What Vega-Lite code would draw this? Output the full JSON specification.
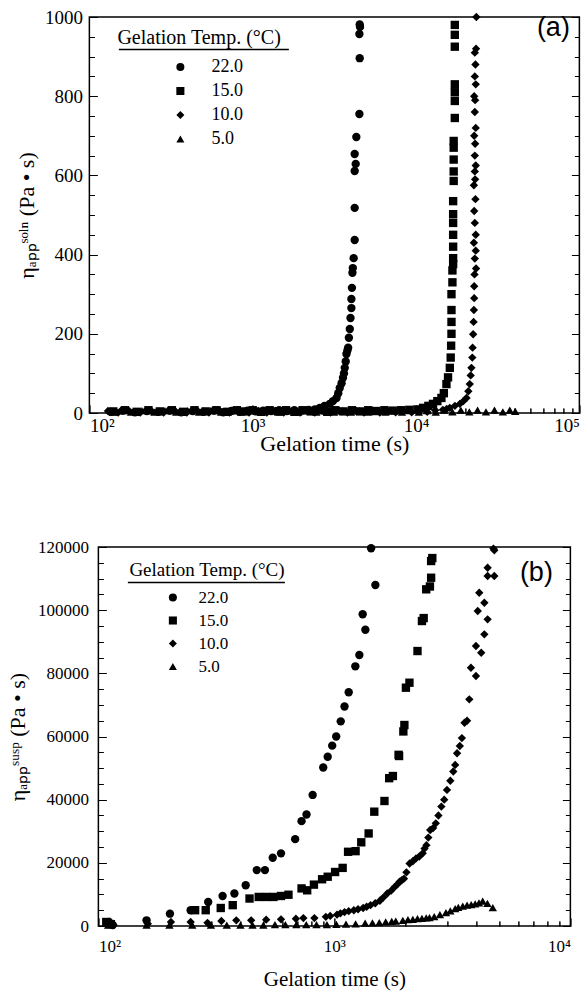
{
  "$schema": "https://vega.github.io/schema/vega-lite/v6.json",
  "background": "white",
  "padding": {"left": 5, "top": 7, "right": 0, "bottom": 5},
  "config": {
    "font": "Liberation Serif",
    "view": {"stroke": "black", "strokeWidth": 1.5},
    "axis": {"labelColor": "black", "titleColor": "black", "tickColor": "black", "gridColor": "black", "gridOpacity": 1, "domain": false, "labelFont": "Liberation Serif", "titleFont": "Liberation Serif", "titleFontWeight": "normal"},
    "legend": {"labelColor": "black", "titleColor": "black"}
  },
  "datasets": {
    "a": [
      {"s":"22.0","t":135,"v":3},{"s":"22.0","t":160,"v":6},{"s":"22.0","t":190,"v":2},{"s":"22.0","t":225,"v":5},{"s":"22.0","t":265,"v":3},{"s":"22.0","t":310,"v":6},{"s":"22.0","t":365,"v":2},{"s":"22.0","t":430,"v":5},{"s":"22.0","t":500,"v":3},{"s":"22.0","t":580,"v":6},{"s":"22.0","t":660,"v":2},{"s":"22.0","t":740,"v":5},{"s":"22.0","t":830,"v":3},{"s":"22.0","t":930,"v":6},{"s":"22.0","t":1040,"v":4},{"s":"22.0","t":1160,"v":6},{"s":"22.0","t":1300,"v":5},{"s":"22.0","t":1450,"v":7},{"s":"22.0","t":1620,"v":5},{"s":"22.0","t":1800,"v":7},{"s":"22.0","t":2000,"v":6},{"s":"22.0","t":2200,"v":8},{"s":"22.0","t":2400,"v":9},
      {"s":"22.0","t":2570,"v":13},{"s":"22.0","t":2750,"v":18},{"s":"22.0","t":2960,"v":23},{"s":"22.0","t":3100,"v":30},{"s":"22.0","t":3260,"v":38},{"s":"22.0","t":3340,"v":50},{"s":"22.0","t":3410,"v":63},{"s":"22.0","t":3500,"v":75},{"s":"22.0","t":3570,"v":89},{"s":"22.0","t":3620,"v":100},{"s":"22.0","t":3660,"v":114},{"s":"22.0","t":3710,"v":130},{"s":"22.0","t":3750,"v":149},{"s":"22.0","t":3800,"v":158},{"s":"22.0","t":3840,"v":165},{"s":"22.0","t":3880,"v":190},{"s":"22.0","t":3930,"v":212},{"s":"22.0","t":3970,"v":240},{"s":"22.0","t":4020,"v":265},{"s":"22.0","t":4020,"v":288},{"s":"22.0","t":4050,"v":316},{"s":"22.0","t":4080,"v":354},{"s":"22.0","t":4100,"v":366},{"s":"22.0","t":4150,"v":391},{"s":"22.0","t":4210,"v":437},{"s":"22.0","t":4210,"v":518},{"s":"22.0","t":4210,"v":611},{"s":"22.0","t":4270,"v":629},{"s":"22.0","t":4210,"v":654},{"s":"22.0","t":4310,"v":697},{"s":"22.0","t":4500,"v":755},{"s":"22.0","t":4520,"v":896},{"s":"22.0","t":4500,"v":957},{"s":"22.0","t":4540,"v":975},{"s":"22.0","t":4520,"v":981},
      {"s":"15.0","t":140,"v":4},{"s":"15.0","t":165,"v":7},{"s":"15.0","t":195,"v":3},{"s":"15.0","t":230,"v":7},{"s":"15.0","t":270,"v":4},{"s":"15.0","t":320,"v":7},{"s":"15.0","t":375,"v":3},{"s":"15.0","t":440,"v":7},{"s":"15.0","t":515,"v":4},{"s":"15.0","t":600,"v":7},{"s":"15.0","t":700,"v":3},{"s":"15.0","t":800,"v":7},{"s":"15.0","t":900,"v":4},{"s":"15.0","t":1000,"v":7},{"s":"15.0","t":1130,"v":3},{"s":"15.0","t":1270,"v":7},{"s":"15.0","t":1430,"v":4},{"s":"15.0","t":1600,"v":7},{"s":"15.0","t":1800,"v":3},{"s":"15.0","t":2020,"v":7},{"s":"15.0","t":2270,"v":4},{"s":"15.0","t":2550,"v":7},{"s":"15.0","t":2860,"v":3},{"s":"15.0","t":3200,"v":7},{"s":"15.0","t":3600,"v":4},{"s":"15.0","t":4050,"v":7},{"s":"15.0","t":4550,"v":4},{"s":"15.0","t":5100,"v":7},{"s":"15.0","t":5700,"v":5},{"s":"15.0","t":6400,"v":7},{"s":"15.0","t":7200,"v":6},{"s":"15.0","t":8100,"v":7},{"s":"15.0","t":9100,"v":8},{"s":"15.0","t":10200,"v":9},
      {"s":"15.0","t":11050,"v":13},{"s":"15.0","t":11900,"v":18},{"s":"15.0","t":12700,"v":23},{"s":"15.0","t":13500,"v":30},{"s":"15.0","t":14300,"v":38},{"s":"15.0","t":14800,"v":50},{"s":"15.0","t":15350,"v":73},{"s":"15.0","t":15700,"v":90},{"s":"15.0","t":16100,"v":114},{"s":"15.0","t":16300,"v":140},{"s":"15.0","t":16400,"v":170},{"s":"15.0","t":16480,"v":200},{"s":"15.0","t":16480,"v":230},{"s":"15.0","t":16480,"v":260},{"s":"15.0","t":16480,"v":300},{"s":"15.0","t":16700,"v":330},{"s":"15.0","t":16700,"v":360},{"s":"15.0","t":16870,"v":376},{"s":"15.0","t":16870,"v":391},{"s":"15.0","t":16870,"v":420},{"s":"15.0","t":16870,"v":450},{"s":"15.0","t":16870,"v":480},{"s":"15.0","t":16870,"v":502},{"s":"15.0","t":16870,"v":535},{"s":"15.0","t":17000,"v":586},{"s":"15.0","t":17000,"v":610},{"s":"15.0","t":17000,"v":640},{"s":"15.0","t":17000,"v":670},{"s":"15.0","t":17000,"v":687},{"s":"15.0","t":17270,"v":745},{"s":"15.0","t":17270,"v":788},{"s":"15.0","t":17270,"v":810},{"s":"15.0","t":17270,"v":830},{"s":"15.0","t":17270,"v":925},{"s":"15.0","t":17270,"v":955},{"s":"15.0","t":17270,"v":980},
      {"s":"10.0","t":130,"v":5},{"s":"10.0","t":150,"v":1},{"s":"10.0","t":175,"v":5},{"s":"10.0","t":205,"v":1},{"s":"10.0","t":240,"v":5},{"s":"10.0","t":285,"v":1},{"s":"10.0","t":335,"v":5},{"s":"10.0","t":395,"v":1},{"s":"10.0","t":460,"v":5},{"s":"10.0","t":540,"v":1},{"s":"10.0","t":630,"v":5},{"s":"10.0","t":720,"v":1},{"s":"10.0","t":820,"v":5},{"s":"10.0","t":950,"v":1},{"s":"10.0","t":1080,"v":5},{"s":"10.0","t":1220,"v":1},{"s":"10.0","t":1380,"v":5},{"s":"10.0","t":1550,"v":1},{"s":"10.0","t":1750,"v":5},{"s":"10.0","t":1950,"v":1},{"s":"10.0","t":2150,"v":5},{"s":"10.0","t":2400,"v":1},{"s":"10.0","t":2700,"v":5},{"s":"10.0","t":3000,"v":1},{"s":"10.0","t":3400,"v":5},{"s":"10.0","t":3800,"v":1},{"s":"10.0","t":4300,"v":5},{"s":"10.0","t":4800,"v":1},{"s":"10.0","t":5400,"v":5},{"s":"10.0","t":6000,"v":1},{"s":"10.0","t":6700,"v":5},{"s":"10.0","t":7500,"v":2},{"s":"10.0","t":8400,"v":5},{"s":"10.0","t":9400,"v":2},{"s":"10.0","t":10500,"v":6},{"s":"10.0","t":11700,"v":3},{"s":"10.0","t":13100,"v":7},{"s":"10.0","t":14600,"v":8},{"s":"10.0","t":15400,"v":10},
      {"s":"10.0","t":16080,"v":13},{"s":"10.0","t":17300,"v":18},{"s":"10.0","t":18530,"v":23},{"s":"10.0","t":19500,"v":30},{"s":"10.0","t":20360,"v":38},{"s":"10.0","t":20900,"v":55},{"s":"10.0","t":21320,"v":73},{"s":"10.0","t":21600,"v":95},{"s":"10.0","t":21830,"v":114},{"s":"10.0","t":22100,"v":140},{"s":"10.0","t":22200,"v":165},{"s":"10.0","t":22370,"v":199},{"s":"10.0","t":22500,"v":230},{"s":"10.0","t":22600,"v":260},{"s":"10.0","t":22700,"v":290},{"s":"10.0","t":22700,"v":320},{"s":"10.0","t":22800,"v":350},{"s":"10.0","t":23300,"v":365},{"s":"10.0","t":22900,"v":390},{"s":"10.0","t":23200,"v":410},{"s":"10.0","t":22600,"v":430},{"s":"10.0","t":23200,"v":450},{"s":"10.0","t":22900,"v":480},{"s":"10.0","t":22700,"v":510},{"s":"10.0","t":23100,"v":540},{"s":"10.0","t":22600,"v":575},{"s":"10.0","t":23000,"v":590},{"s":"10.0","t":22900,"v":610},{"s":"10.0","t":23200,"v":625},{"s":"10.0","t":22900,"v":650},{"s":"10.0","t":23000,"v":680},{"s":"10.0","t":22700,"v":700},{"s":"10.0","t":23200,"v":720},{"s":"10.0","t":22900,"v":760},{"s":"10.0","t":23000,"v":790},{"s":"10.0","t":22700,"v":800},{"s":"10.0","t":23200,"v":830},{"s":"10.0","t":22900,"v":850},{"s":"10.0","t":23100,"v":880},{"s":"10.0","t":22900,"v":910},{"s":"10.0","t":23300,"v":920},{"s":"10.0","t":23400,"v":1000},
      {"s":"5.0","t":140,"v":2},{"s":"5.0","t":155,"v":6},{"s":"5.0","t":180,"v":2},{"s":"5.0","t":210,"v":6},{"s":"5.0","t":250,"v":2},{"s":"5.0","t":290,"v":6},{"s":"5.0","t":340,"v":2},{"s":"5.0","t":400,"v":6},{"s":"5.0","t":470,"v":2},{"s":"5.0","t":550,"v":6},{"s":"5.0","t":640,"v":2},{"s":"5.0","t":740,"v":6},{"s":"5.0","t":850,"v":2},{"s":"5.0","t":980,"v":6},{"s":"5.0","t":1120,"v":2},{"s":"5.0","t":1280,"v":6},{"s":"5.0","t":1460,"v":2},{"s":"5.0","t":1680,"v":6},{"s":"5.0","t":1900,"v":2},{"s":"5.0","t":2150,"v":6},{"s":"5.0","t":2450,"v":2},{"s":"5.0","t":2780,"v":6},{"s":"5.0","t":3150,"v":2},{"s":"5.0","t":3550,"v":6},{"s":"5.0","t":4000,"v":2},{"s":"5.0","t":4500,"v":6},{"s":"5.0","t":5100,"v":2},{"s":"5.0","t":5750,"v":6},{"s":"5.0","t":6500,"v":2},{"s":"5.0","t":7300,"v":6},{"s":"5.0","t":8200,"v":2},{"s":"5.0","t":9200,"v":6},{"s":"5.0","t":10400,"v":2},{"s":"5.0","t":11700,"v":6},{"s":"5.0","t":13200,"v":2},{"s":"5.0","t":14800,"v":7},{"s":"5.0","t":16700,"v":3},{"s":"5.0","t":18800,"v":7},{"s":"5.0","t":21200,"v":3},{"s":"5.0","t":23800,"v":7},{"s":"5.0","t":26800,"v":3},{"s":"5.0","t":30200,"v":7},{"s":"5.0","t":34000,"v":3},{"s":"5.0","t":37500,"v":7},{"s":"5.0","t":40500,"v":4}
    ],
    "b": [
      {"s":"22.0","t":111,"v":1270},{"s":"22.0","t":115,"v":300},{"s":"22.0","t":160,"v":1800},{"s":"22.0","t":201,"v":3900},{"s":"22.0","t":246,"v":5000},{"s":"22.0","t":292,"v":7600},{"s":"22.0","t":336,"v":9500},{"s":"22.0","t":377,"v":10300},{"s":"22.0","t":421,"v":12900},{"s":"22.0","t":469,"v":17700},{"s":"22.0","t":508,"v":17700},{"s":"22.0","t":548,"v":21600},{"s":"22.0","t":594,"v":23000},{"s":"22.0","t":682,"v":27500},{"s":"22.0","t":726,"v":33200},{"s":"22.0","t":762,"v":35300},{"s":"22.0","t":809,"v":41500},{"s":"22.0","t":897,"v":50200},{"s":"22.0","t":937,"v":53600},{"s":"22.0","t":979,"v":57100},{"s":"22.0","t":1018,"v":60000},{"s":"22.0","t":1064,"v":64800},{"s":"22.0","t":1104,"v":69500},{"s":"22.0","t":1150,"v":74000},{"s":"22.0","t":1227,"v":82220},{"s":"22.0","t":1276,"v":85800},{"s":"22.0","t":1353,"v":93810},{"s":"22.0","t":1318,"v":98690},{"s":"22.0","t":1492,"v":107960},{"s":"22.0","t":1431,"v":119600},
      {"s":"15.0","t":108,"v":1270},{"s":"15.0","t":113,"v":600},{"s":"15.0","t":257,"v":5000},{"s":"15.0","t":285,"v":5000},{"s":"15.0","t":330,"v":5700},{"s":"15.0","t":371,"v":6600},{"s":"15.0","t":437,"v":8700},{"s":"15.0","t":478,"v":9200},{"s":"15.0","t":514,"v":9200},{"s":"15.0","t":552,"v":9200},{"s":"15.0","t":594,"v":9500},{"s":"15.0","t":639,"v":9900},{"s":"15.0","t":726,"v":11900},{"s":"15.0","t":767,"v":11300},{"s":"15.0","t":819,"v":13100},{"s":"15.0","t":887,"v":14800},{"s":"15.0","t":937,"v":15600},{"s":"15.0","t":1007,"v":17100},{"s":"15.0","t":1084,"v":18400},{"s":"15.0","t":1143,"v":23500},{"s":"15.0","t":1230,"v":23700},{"s":"15.0","t":1300,"v":26500},{"s":"15.0","t":1397,"v":29300},{"s":"15.0","t":1476,"v":36200},{"s":"15.0","t":1630,"v":39580},{"s":"15.0","t":1707,"v":46800},{"s":"15.0","t":1770,"v":47490},{"s":"15.0","t":1871,"v":54200},{"s":"15.0","t":1880,"v":53820},{"s":"15.0","t":1960,"v":61600},{"s":"15.0","t":1980,"v":63640},{"s":"15.0","t":2010,"v":75450},{"s":"15.0","t":2080,"v":77030},{"s":"15.0","t":2250,"v":87060},{"s":"15.0","t":2350,"v":96560},{"s":"15.0","t":2390,"v":97500},{"s":"15.0","t":2450,"v":106600},{"s":"15.0","t":2540,"v":107500},{"s":"15.0","t":2570,"v":110270},{"s":"15.0","t":2570,"v":115560},{"s":"15.0","t":2600,"v":116500},
      {"s":"10.0","t":116,"v":300},{"s":"10.0","t":162,"v":700},{"s":"10.0","t":203,"v":1270},{"s":"10.0","t":246,"v":1270},{"s":"10.0","t":290,"v":1000},{"s":"10.0","t":332,"v":1600},{"s":"10.0","t":384,"v":1800},{"s":"10.0","t":444,"v":1800},{"s":"10.0","t":514,"v":2000},{"s":"10.0","t":594,"v":2100},{"s":"10.0","t":687,"v":2300},{"s":"10.0","t":739,"v":2500},{"s":"10.0","t":823,"v":2500},{"s":"10.0","t":920,"v":2900},{"s":"10.0","t":960,"v":3200},{"s":"10.0","t":1026,"v":3600},{"s":"10.0","t":1060,"v":4000},{"s":"10.0","t":1104,"v":4400},{"s":"10.0","t":1150,"v":4700},{"s":"10.0","t":1209,"v":5000},{"s":"10.0","t":1260,"v":5300},{"s":"10.0","t":1324,"v":5700},{"s":"10.0","t":1370,"v":6100},{"s":"10.0","t":1423,"v":6600},{"s":"10.0","t":1490,"v":7200},{"s":"10.0","t":1559,"v":8000},{"s":"10.0","t":1610,"v":9000},{"s":"10.0","t":1675,"v":10300},{"s":"10.0","t":1740,"v":11200},{"s":"10.0","t":1803,"v":12400},{"s":"10.0","t":1850,"v":13200},{"s":"10.0","t":1889,"v":14000},{"s":"10.0","t":1930,"v":14500},{"s":"10.0","t":1972,"v":15000},{"s":"10.0","t":2020,"v":17000},{"s":"10.0","t":2083,"v":19800},{"s":"10.0","t":2150,"v":20500},{"s":"10.0","t":2218,"v":21400},{"s":"10.0","t":2290,"v":22000},{"s":"10.0","t":2367,"v":23000},{"s":"10.0","t":2410,"v":24500},{"s":"10.0","t":2455,"v":25600},{"s":"10.0","t":2500,"v":28000},{"s":"10.0","t":2547,"v":30400},{"s":"10.0","t":2620,"v":31000},{"s":"10.0","t":2690,"v":32500},{"s":"10.0","t":2760,"v":35000},{"s":"10.0","t":2840,"v":37800},{"s":"10.0","t":2920,"v":40000},{"s":"10.0","t":3000,"v":43100},{"s":"10.0","t":3100,"v":46000},{"s":"10.0","t":3190,"v":48900},{"s":"10.0","t":3250,"v":51000},{"s":"10.0","t":3310,"v":54700},{"s":"10.0","t":3400,"v":57000},{"s":"10.0","t":3470,"v":59500},{"s":"10.0","t":3560,"v":64370},{"s":"10.0","t":3650,"v":65000},{"s":"10.0","t":3730,"v":71770},{"s":"10.0","t":3790,"v":81780},{"s":"10.0","t":3980,"v":79150},{"s":"10.0","t":3980,"v":88650},{"s":"10.0","t":4190,"v":86530},{"s":"10.0","t":4320,"v":92350},{"s":"10.0","t":4460,"v":97100},{"s":"10.0","t":4050,"v":99730},{"s":"10.0","t":4320,"v":102360},{"s":"10.0","t":4110,"v":105530},{"s":"10.0","t":4460,"v":110810},{"s":"10.0","t":4760,"v":110810},{"s":"10.0","t":4460,"v":113440},{"s":"10.0","t":4720,"v":119500},{"s":"10.0","t":4760,"v":118950},
      {"s":"5.0","t":110,"v":300},{"s":"5.0","t":160,"v":300},{"s":"5.0","t":200,"v":300},{"s":"5.0","t":250,"v":300},{"s":"5.0","t":300,"v":300},{"s":"5.0","t":350,"v":300},{"s":"5.0","t":400,"v":300},{"s":"5.0","t":450,"v":300},{"s":"5.0","t":500,"v":300},{"s":"5.0","t":560,"v":400},{"s":"5.0","t":620,"v":400},{"s":"5.0","t":690,"v":400},{"s":"5.0","t":760,"v":400},{"s":"5.0","t":840,"v":400},{"s":"5.0","t":930,"v":400},{"s":"5.0","t":1020,"v":500},{"s":"5.0","t":1120,"v":600},{"s":"5.0","t":1230,"v":700},{"s":"5.0","t":1350,"v":900},{"s":"5.0","t":1450,"v":1000},{"s":"5.0","t":1550,"v":1050},{"s":"5.0","t":1650,"v":1300},{"s":"5.0","t":1750,"v":1450},{"s":"5.0","t":1820,"v":1580},{"s":"5.0","t":1950,"v":1800},{"s":"5.0","t":2050,"v":2000},{"s":"5.0","t":2150,"v":2120},{"s":"5.0","t":2250,"v":2300},{"s":"5.0","t":2350,"v":2450},{"s":"5.0","t":2450,"v":2550},{"s":"5.0","t":2530,"v":2630},{"s":"5.0","t":2650,"v":3000},{"s":"5.0","t":2800,"v":3600},{"s":"5.0","t":2970,"v":4210},{"s":"5.0","t":3100,"v":4800},{"s":"5.0","t":3250,"v":5500},{"s":"5.0","t":3350,"v":5900},{"s":"5.0","t":3500,"v":6330},{"s":"5.0","t":3650,"v":6600},{"s":"5.0","t":3800,"v":6800},{"s":"5.0","t":3950,"v":7000},{"s":"5.0","t":4100,"v":7300},{"s":"5.0","t":4250,"v":7900},{"s":"5.0","t":4450,"v":7200},{"s":"5.0","t":4690,"v":5800}
    ]
  },
  "vconcat": [
    {
      "width": 490,
      "height": 396,
      "title": {"text": "(a)", "font": "Liberation Sans", "fontSize": 27, "fontWeight": "normal", "color": "black", "anchor": "end", "orient": "top", "offset": -34, "dx": -10},
      "data": {"name": "a"},
      "mark": {"type": "point", "filled": true, "opacity": 1, "color": "black", "size": 70},
      "encoding": {
        "x": {"field": "t", "type": "quantitative", "scale": {"type": "log", "domain": [100, 100000]},
          "axis": {"title": "Gelation time (s)", "values": [100,200,300,400,500,600,700,800,900,1000,2000,3000,4000,5000,6000,7000,8000,9000,10000,20000,30000,40000,50000,60000,70000,80000,90000,100000],
            "labelExpr": "datum.value == 100 ? '10²' : datum.value == 1000 ? '10³' : datum.value == 10000 ? '10⁴' : datum.value == 100000 ? '10⁵' : ''",
            "tickSize": {"condition": {"test": "indexof([100,1000,10000,100000], datum.value) >= 0", "value": -8}, "value": -5},
            "grid": true, "gridWidth": 1,
            "gridDash": {"condition": {"test": "indexof([100,1000,10000,100000], datum.value) >= 0", "value": [0, 388, 8]}, "value": [0, 391, 5]},
            "labelPadding": 11, "titlePadding": -2, "labelFontSize": 19, "titleFontSize": 22}},
        "y": {"field": "v", "type": "quantitative", "scale": {"domain": [0, 1000], "nice": false},
          "axis": {"title": "ηₐₚₚˢᵒˡⁿ  (Pa • s)", "values": [0,50,100,150,200,250,300,350,400,450,500,550,600,650,700,750,800,850,900,920,950,1000], "format": "d",
            "labelExpr": "datum.value % 200 === 0 ? datum.label : ''",
            "tickSize": {"condition": [{"test": "datum.value === 920", "value": 0}, {"test": "datum.value % 200 === 0", "value": -8}], "value": -5},
            "grid": true,
            "gridWidth": {"condition": {"test": "datum.value === 920", "value": 1.5}, "value": 1},
            "gridDash": {"condition": [{"test": "datum.value === 920", "value": [0, 29, 170, 2000]}, {"test": "datum.value % 200 === 0", "value": [0, 482, 8]}], "value": [0, 485, 5]},
            "labelPadding": 15, "titlePadding": 6, "labelFontSize": 19, "titleFontSize": 22}},
        "shape": {"field": "s", "type": "nominal", "scale": {"domain": ["22.0", "15.0", "10.0", "5.0"], "range": ["circle", "square", "diamond", "triangle-up"]},
          "legend": {"orient": "none", "legendX": 28, "legendY": 11, "title": "Gelation Temp. (°C)", "titleFont": "Liberation Serif", "titleFontSize": 20, "titleFontWeight": "normal", "titlePadding": 10, "labelFont": "Liberation Serif", "labelFontSize": 18, "symbolOffset": 54, "symbolSize": 65, "symbolFillColor": "black", "symbolStrokeWidth": 0, "rowPadding": 6, "labelOffset": 22, "padding": 0}}
      }
    },
    {
      "width": 472,
      "height": 379,
      "title": {"text": "(b)", "font": "Liberation Sans", "fontSize": 27, "fontWeight": "normal", "color": "black", "anchor": "end", "orient": "top", "offset": -49, "dx": -18},
      "data": {"name": "b"},
      "mark": {"type": "point", "filled": true, "opacity": 1, "color": "black", "size": 70},
      "encoding": {
        "x": {"field": "t", "type": "quantitative", "scale": {"type": "log", "domain": [100, 10000]},
          "axis": {"title": "Gelation time (s)", "values": [100,200,300,400,500,600,700,800,900,1000,2000,3000,4000,5000,6000,7000,8000,9000,10000],
            "labelExpr": "datum.value == 100 ? '10²' : datum.value == 1000 ? '10³' : datum.value == 10000 ? '10⁴' : ''",
            "tickSize": {"condition": {"test": "indexof([100,1000,10000], datum.value) >= 0", "value": -8}, "value": -5},
            "grid": true, "gridWidth": 1,
            "gridDash": {"condition": {"test": "indexof([100,1000,10000], datum.value) >= 0", "value": [0, 371, 8]}, "value": [0, 374, 5]},
            "labelPadding": 20, "titlePadding": 14, "labelFontSize": 17, "titleFontSize": 21}},
        "y": {"field": "v", "type": "quantitative", "scale": {"domain": [0, 120000], "nice": false},
          "axis": {"title": "ηₐₚₚˢᵘˢᵖ  (Pa • s)", "values": [0,5000,10000,15000,20000,25000,30000,35000,40000,45000,50000,55000,60000,65000,70000,75000,80000,85000,90000,95000,100000,105000,109000,110000,115000,120000], "format": "d",
            "labelExpr": "datum.value % 20000 === 0 ? datum.label : ''",
            "tickSize": {"condition": [{"test": "datum.value === 109000", "value": 0}, {"test": "datum.value % 20000 === 0", "value": -8}], "value": -5},
            "grid": true,
            "gridWidth": {"condition": {"test": "datum.value === 109000", "value": 1.5}, "value": 1},
            "gridDash": {"condition": [{"test": "datum.value === 109000", "value": [0, 29, 157, 2000]}, {"test": "datum.value % 20000 === 0", "value": [0, 464, 8]}], "value": [0, 467, 5]},
            "labelPadding": 18, "titlePadding": 8, "labelFontSize": 17, "titleFontSize": 22}},
        "shape": {"field": "s", "type": "nominal", "scale": {"domain": ["22.0", "15.0", "10.0", "5.0"], "range": ["circle", "square", "diamond", "triangle-up"]},
          "legend": {"orient": "none", "legendX": 31, "legendY": 14, "title": "Gelation Temp. (°C)", "titleFont": "Liberation Serif", "titleFontSize": 19, "titleFontWeight": "normal", "titlePadding": 9, "labelFont": "Liberation Serif", "labelFontSize": 17, "symbolOffset": 35, "symbolSize": 65, "symbolFillColor": "black", "symbolStrokeWidth": 0, "rowPadding": 5, "labelOffset": 17, "padding": 0}}
      }
    }
  ],
  "spacing": 82,
  "center": true,
  "resolve": {"scale": {"shape": "independent"}, "legend": {"shape": "independent"}}
}
